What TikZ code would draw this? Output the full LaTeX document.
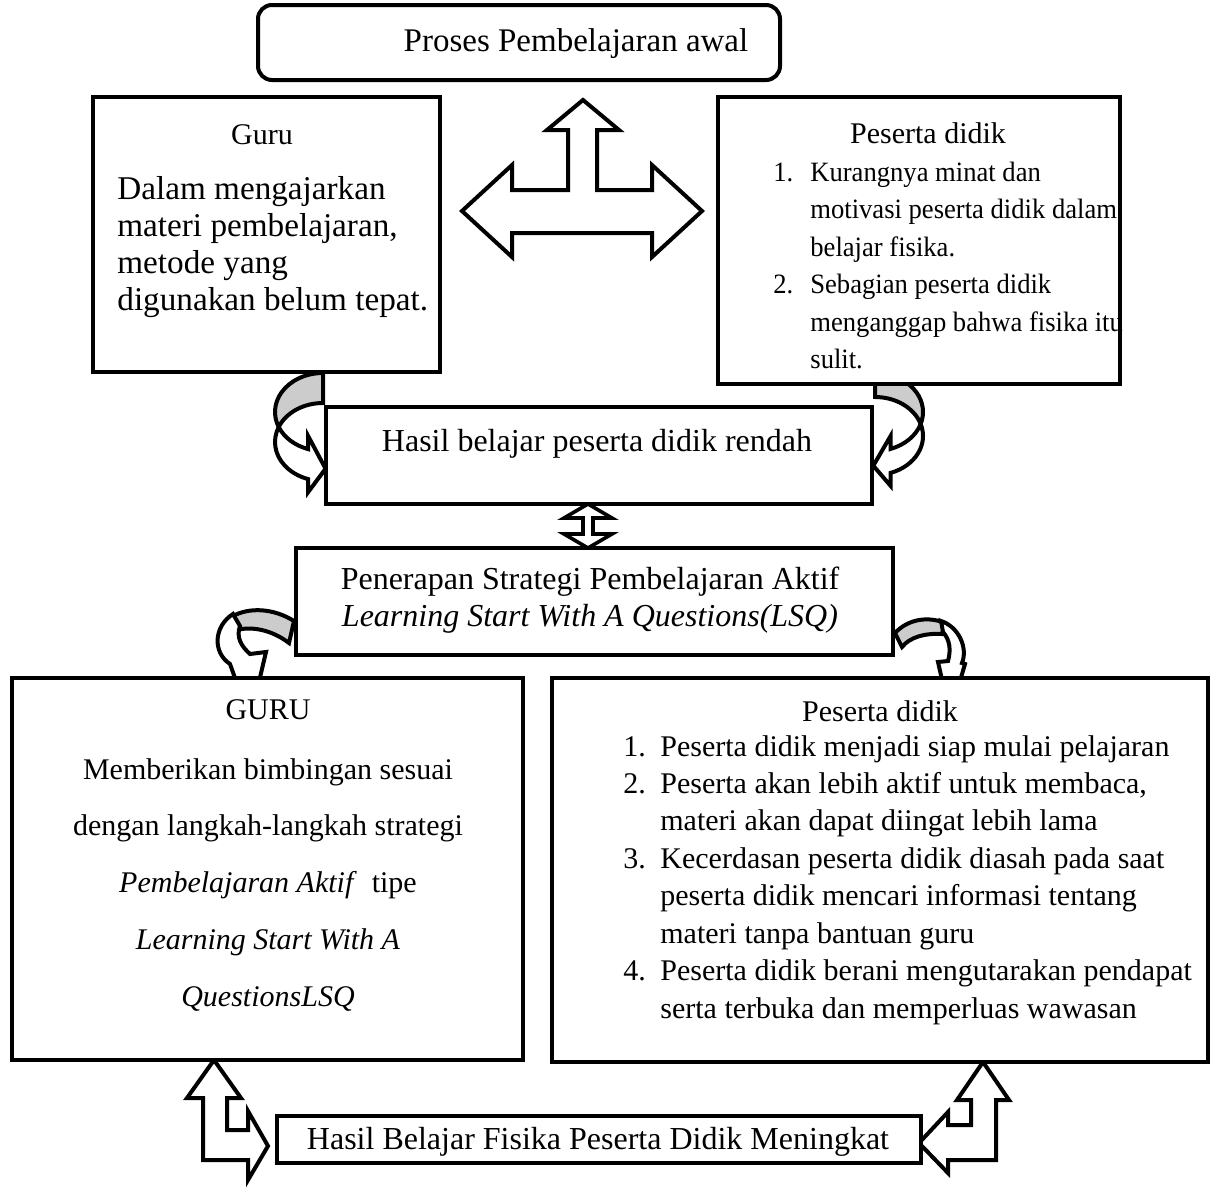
\documentclass[tikz,border=0pt]{standalone}
\usepackage{fontspec}
\setmainfont{Liberation Serif}
\newfontfamily\condfont[FakeStretch=0.95]{Liberation Serif}
\usetikzlibrary{fit}
\newcommand{\curvedRA}[6]{%
 \pgfmathsetmacro\caA{asin(#3/(2*#2))}%
 \pgfmathsetmacro\caTA{180-\caA}%
 \pgfmathsetmacro\caTB{180+\caA}%
 \pgfmathsetmacro\caCx{#1*cos(\caTB)}%
 \pgfmathsetmacro\caCy{#3+#2*sin(\caTB)}%
 \pgfmathsetmacro\caQx{#1*cos(#4)}%
 \pgfmathsetmacro\caQy{#2*sin(#4)}%
 \pgfmathsetmacro\caTx{#1*sin(#4)}%
 \pgfmathsetmacro\caTy{-#2*cos(#4)}%
 \pgfmathsetmacro\caTn{sqrt(\caTx*\caTx+\caTy*\caTy)}%
 \pgfmathsetmacro\caPx{\caQx+#6*\caTx/\caTn}%
 \pgfmathsetmacro\caPy{\caQy+#3/2+#6*\caTy/\caTn}%
 \draw[arrline,fill=backgrey] (0,-#2) arc[start angle=270,end angle=\caTA,x radius=#1,y radius=#2]
   arc[start angle=\caTB,end angle=270,x radius=#1,y radius=#2] -- cycle;
 \draw[arrline,fill=white] (\caCx,\caCy) arc[start angle=\caTB,end angle=#4,x radius=#1,y radius=#2]
   -- (\caQx,{\caQy+#3+#5}) -- (\caPx,\caPy) -- (\caQx,{\caQy-#5}) -- (\caQx,\caQy)
   arc[start angle=#4,end angle=\caTA,x radius=#1,y radius=#2] -- cycle;
}
\definecolor{backgrey}{RGB}{204,204,204}
\begin{document}
\begin{tikzpicture}[x=0.5pt,y=-0.5pt,
  box/.style={draw, line width=2pt, fill=white, inner sep=0pt},
  arrline/.style={draw, line width=2pt, line join=miter, miter limit=6},
  txt/.style={inner sep=0pt, font=\fontsize{15}{18.5}\selectfont},
  bigtxt/.style={inner sep=0pt, font=\fontsize{16}{18.5}\selectfont},
]
\fill[white] (0,0) rectangle (1220,1189);
\useasboundingbox (0,0) rectangle (1220,1189);

% ---- block arrows (drawn first, boxes cover their ends) ----
% three-way arrow
\draw[arrline,fill=white] (462,211) -- (512,165) -- (512,190) -- (568,190) -- (568,130) -- (547,130)
  -- (583,100) -- (619,130) -- (597,130) -- (597,190) -- (652,190) -- (652,165) -- (702,211)
  -- (652,257) -- (652,233) -- (512,233) -- (512,257) -- cycle;

% curved arrows into "Hasil belajar"
\begin{scope}[shift={(323,412)}]
  \curvedRA{48}{39}{30}{108}{13}{18}
\end{scope}
\begin{scope}[shift={(875,412)},xscale=-1]
  \curvedRA{48}{39}{24}{109}{13}{18}
\end{scope}

% curved arrow from Penerapan to GURU
\draw[arrline,fill=backgrey] (294,621) .. controls (275,609) and (250,606) .. (231,617)
  -- (237,630) .. controls (252,626) and (272,630) .. (289,643) -- cycle;
\draw[arrline,fill=white] (233,614) .. controls (214,626) and (212,652) .. (230,664)
  -- (250,720) -- (266,652) -- (250,654) .. controls (241,646) and (236,637) .. (240,626) -- cycle;

% curved arrow from Penerapan to Peserta didik
\draw[arrline,fill=backgrey] (895,633) .. controls (908,619) and (928,616) .. (945,623)
  -- (942,634) .. controls (925,633) and (910,637) .. (902,647) -- cycle;
\draw[arrline,fill=white] (941,621) .. controls (959,627) and (968,648) .. (962,663)
  -- (965,664) -- (950,715) -- (938,662) -- (948,661) .. controls (951,650) and (950,640) .. (943,632) -- cycle;

% small double arrow
\draw[arrline,fill=white,line width=1.8pt] (588,504) -- (612,518) -- (593,518) -- (593,534) -- (612,534)
  -- (588,548) -- (564,534) -- (583,534) -- (583,518) -- (564,518) -- cycle;

% bent double arrows at bottom
\draw[arrline,fill=white] (214,1060) -- (187,1098) -- (203,1098) -- (203,1160) -- (248,1160)
  -- (248,1180) -- (268,1146) -- (248,1111) -- (248,1130) -- (227,1130) -- (227,1098)
  -- (241,1098) -- cycle;
\draw[arrline,fill=white] (983,1062) -- (1009,1100) -- (996,1100) -- (996,1160) -- (948,1160)
  -- (948,1173) -- (919,1143) -- (948,1112) -- (948,1125) -- (971,1125) -- (971,1100)
  -- (957,1100) -- cycle;

% ---- boxes ----
\node[box, rounded corners=7pt, fit={(258,5) (780,80)}] (awal) {};
\node[box, fit={(93,97) (440,372)}] (guru) {};
\node[box, fit={(718,97) (1120,384)}] (pd1) {};
\node[box, fit={(326,407) (872,504)}] (hasil) {};
\node[box, fit={(296,548) (893,655)}] (penerapan) {};
\node[box, fit={(12,678) (523,1060)}] (guru2) {};
\node[box, fit={(552,678) (1208,1062)}] (pd2) {};
\node[box, fit={(277,1116) (921,1163)}] (akhir) {};

% ---- texts ----
\node[inner sep=0pt, font=\fontsize{16.5}{18.5}\selectfont, anchor=base] (tawal) at (576,51) {Proses Pembelajaran awal};

\node[txt, anchor=base] (tguru) at (262,144) {Guru};
\node[inner sep=0pt, font=\fontsize{16.6}{18.5}\selectfont, anchor=base west] (tgurubody) at (117,199) {\begin{tabular}[t]{@{}l@{}}
Dalam mengajarkan\\
materi pembelajaran,\\
metode yang\\
digunakan belum tepat.
\end{tabular}};

\node[txt, anchor=base] (tpd1) at (928,143) {Peserta didik};
\node[inner sep=0pt, font=\condfont\fontsize{14}{18.75}\selectfont, anchor=base west] (tpd1body) at (773,181) {\begin{tabular}[t]{@{}l@{}l@{}}
\makebox[18.5pt][l]{1.} & Kurangnya minat dan\\
 & motivasi peserta didik dalam\\
 & belajar fisika.\\
\makebox[18.5pt][l]{2.} & Sebagian peserta didik\\
 & menganggap bahwa fisika itu\\
 & sulit.
\end{tabular}};

\node[bigtxt, anchor=base] (thasil) at (597,451) {Hasil belajar peserta didik rendah};

\node[bigtxt, anchor=base] (tpenerapan) at (590,589) {\begin{tabular}[t]{@{}c@{}}
Penerapan Strategi Pembelajaran Aktif\\
\textit{Learning Start With A Questions(LSQ)}
\end{tabular}};

\node[txt, anchor=base] (tguru2) at (268,719) {GURU};
\node[txt, anchor=base] (tguru2body) at (268,779) {\renewcommand{\arraystretch}{1.54}\begin{tabular}[t]{@{}c@{}}
Memberikan bimbingan sesuai\\
dengan langkah-langkah strategi\\
\textit{Pembelajaran Aktif}\ \ tipe\\
\textit{Learning Start With A}\\
\textit{QuestionsLSQ}
\end{tabular}};

\node[txt, anchor=base] (tpd2) at (880,721) {Peserta didik};
\node[txt, anchor=base west] (tpd2body) at (623,756) {\renewcommand{\arraystretch}{1.013}\begin{tabular}[t]{@{}l@{}l@{}}
\makebox[18.5pt][l]{1.} & Peserta didik menjadi siap mulai pelajaran\\
\makebox[18.5pt][l]{2.} & Peserta akan lebih aktif untuk membaca,\\
 & materi akan dapat diingat lebih lama\\
\makebox[18.5pt][l]{3.} & Kecerdasan peserta didik diasah pada saat\\
 & peserta didik mencari informasi tentang\\
 & materi tanpa bantuan guru\\
\makebox[18.5pt][l]{4.} & Peserta didik berani mengutarakan pendapat\\
 & serta terbuka dan memperluas wawasan
\end{tabular}};

\node[bigtxt, anchor=base] (takhir) at (598,1149) {Hasil Belajar Fisika Peserta Didik Meningkat};
\end{tikzpicture}
\end{document}
